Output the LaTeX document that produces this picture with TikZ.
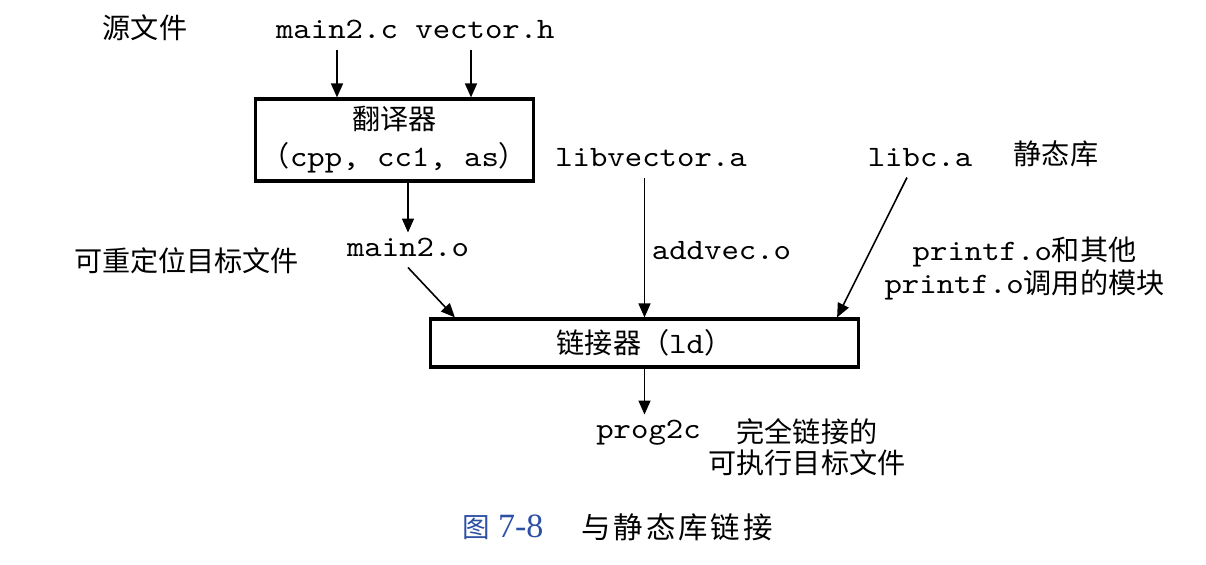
\documentclass[tikz,border=0pt]{standalone}
\usepackage{fontspec}
\setmainfont{lmmono10-regular.otf}[FakeStretch=1.12]
\newfontfamily\cjk{Noto Sans CJK SC}[Scale=0.95]
\newfontfamily\captitle{Noto Sans CJK SC}[Scale=0.95, LetterSpace=10]
\newfontfamily\capserif{Liberation Serif}
\usetikzlibrary{arrows.meta}
\definecolor{capblue}{RGB}{45,80,165}
\tikzset{
  txt/.style={inner sep=0pt, outer sep=3pt, text height=9pt, text depth=2.5pt, font=\fontsize{14.8}{13.5}\selectfont},
  note/.style={txt, font=\fontsize{14.8}{13.5}\selectfont\cjk},
  multi/.style={inner sep=0pt, align=center},
  tool/.style={draw, line width=1.6pt, inner sep=0pt, align=center, font=\fontsize{14.8}{18.5}\selectfont},
  arr/.style={-{Triangle[length=7pt,width=6pt]}, line width=0.8pt},
}

\begin{document}
\begin{tikzpicture}[x=0.5pt, y=-0.5pt]
  \useasboundingbox (0,0) rectangle (1206,564);
  % sources and translator
  \node[note] (srclbl) at (145,32) {源文件};
  \node[txt] (mainc) at (337,32) {main2.c};
  \node[txt] (vech) at (485,32) {vector.h};
  \node[tool, minimum width=139pt, minimum height=41pt] (trans) at (394.5,140) {{\cjk 翻译器}\\{\cjk （}cpp, cc1, as{\cjk ）}};
  \draw[arr] (mainc.south) -- (mainc.south |- trans.north);
  \draw[arr] ([xshift=-7pt]vech.south) -- ([xshift=-7pt]vech.south |- trans.north);
  % relocatable objects and libraries
  \node[txt] (mainobj) at (408,250) {main2.o};
  \node[note] (reloc) at (186.5,265) {可重定位目标文件};
  \node[txt] (libvec) at (651,160) {libvector.a};
  \node[txt] (libc) at (920,160) {libc.a};
  \node[note] (static) at (1056,158) {静态库};
  \node[txt] (addvec) at (721.5,253) {addvec.o};
  \node[multi, font=\fontsize{14.8}{13.5}\selectfont] (printf) at (1024.5,268.5) {printf.o{\cjk 和其他}\\printf.o{\cjk 调用的模块}};
  \draw[arr] (trans.south -| mainobj.north) -- (mainobj.north);
  % linker
  \node[tool, minimum width=214pt, minimum height=24pt] (link) at (644.5,343) {{\cjk 链接器（}ld{\cjk ）}};
  \draw[arr] (mainobj.south) -- ([xshift=13pt]link.north west);
  \draw[arr] (libvec.south -| link.north) -- (link.north);
  \draw[arr] ([xshift=-6.5pt]libc.south) -- ([xshift=-11.5pt]link.north east);
  % executable
  \node[txt] (prog) at (648.5,432) {prog2c};
  \node[multi, font=\fontsize{14.8}{15.5}\selectfont\cjk] (done) at (807,447.5) {完全链接的\\可执行目标文件};
  \draw[arr] (link.south) -- (link.south |- prog.north);
  % caption
  \node[inner sep=0pt, text=capblue, font=\fontsize{14.5}{15}\selectfont] (figno) at (503,527) {{\cjk 图}\hspace{4pt}{\fontsize{17}{17}\selectfont\capserif 7-8}};
  \node[inner sep=0pt, font=\fontsize{15.5}{15}\selectfont\captitle] (figtitle) at (677,527) {与静态库链接};
\end{tikzpicture}
\end{document}
